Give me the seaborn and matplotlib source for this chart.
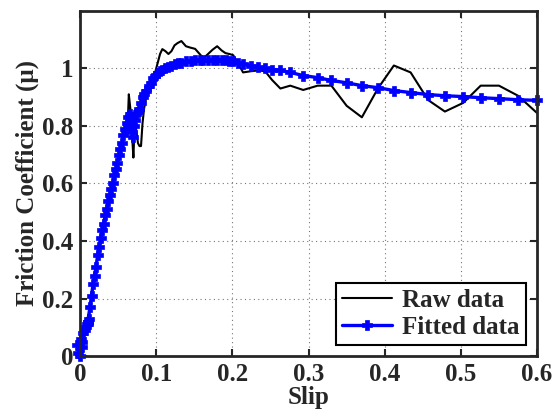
import numpy as np
import pandas as pd
import matplotlib
matplotlib.use("Agg")
import matplotlib.pyplot as plt
import seaborn as sns

# slip values (shared by raw and fitted data)
slip = [0.000, -0.003, 0.002, -0.004, 0.001, 0.004, 0.003, 0.006, 0.008, 0.010, 0.011, 0.009, 0.012, 0.010,
        0.013, 0.015, 0.017, 0.019, 0.021, 0.023, 0.025, 0.027, 0.029, 0.031, 0.033, 0.035, 0.037, 0.039,
        0.041, 0.043, 0.045, 0.047, 0.049, 0.051, 0.053, 0.055, 0.057, 0.059, 0.061, 0.063,
        0.064, 0.066, 0.068, 0.070, 0.071, 0.072, 0.074, 0.076, 0.078, 0.080, 0.082, 0.084, 0.087,
        0.090, 0.093, 0.096, 0.099, 0.102, 0.105, 0.108, 0.112, 0.116, 0.120, 0.124, 0.128, 0.133,
        0.139, 0.145, 0.151, 0.157, 0.162, 0.168, 0.174, 0.180, 0.186, 0.191, 0.196, 0.201, 0.207,
        0.214, 0.224, 0.234, 0.243, 0.252, 0.263, 0.276, 0.293, 0.312, 0.330, 0.350, 0.370, 0.391,
        0.412, 0.434, 0.457, 0.479, 0.503, 0.526, 0.550, 0.575, 0.600]

raw_mu = [0.00, 0.01, 0.03, 0.02, 0.06, 0.07, 0.05, 0.09, 0.10, 0.11, 0.12, 0.10, 0.13, 0.11,
          0.16, 0.20, 0.24, 0.28, 0.31, 0.35, 0.38, 0.41, 0.44, 0.46, 0.49, 0.51, 0.54, 0.56,
          0.58, 0.60, 0.63, 0.65, 0.67, 0.70, 0.72, 0.74, 0.77, 0.79, 0.81, 0.84,
          0.91, 0.86, 0.78, 0.69, 0.76, 0.82, 0.78, 0.74, 0.73, 0.73, 0.81, 0.86, 0.90,
          0.93, 0.95, 0.97, 0.99, 1.02, 1.05, 1.067, 1.06, 1.05, 1.06, 1.08, 1.088, 1.095,
          1.077, 1.072, 1.068, 1.05, 1.035, 1.05, 1.065, 1.077, 1.062, 1.053, 1.05, 1.046, 1.02,
          0.986, 0.99, 0.993, 0.99, 0.96, 0.93, 0.94, 0.925, 0.94, 0.94, 0.87, 0.83, 0.93,
          1.01, 0.986, 0.89, 0.85, 0.88, 0.94, 0.94, 0.905, 0.845]

fit_mu = [0.00, 0.01, 0.03, 0.04, 0.06, 0.08, 0.05, 0.09, 0.10, 0.11, 0.12, 0.11, 0.13, 0.12,
          0.17, 0.21, 0.25, 0.28, 0.31, 0.35, 0.38, 0.41, 0.44, 0.46, 0.49, 0.51, 0.54, 0.56,
          0.58, 0.60, 0.63, 0.65, 0.67, 0.70, 0.72, 0.74, 0.77, 0.79, 0.81, 0.83,
          0.80, 0.84, 0.78, 0.76, 0.80, 0.82, 0.84, 0.85, 0.86, 0.88, 0.90, 0.91, 0.92,
          0.94, 0.95, 0.965, 0.975, 0.985, 0.99, 0.995, 1.00, 1.005, 1.01, 1.015, 1.018, 1.02,
          1.024, 1.026, 1.028, 1.029, 1.03, 1.03, 1.03, 1.03, 1.03, 1.029, 1.027, 1.025, 1.02,
          1.016, 1.01, 1.005, 1.00, 0.996, 0.993, 0.986, 0.975, 0.968, 0.958, 0.95, 0.94, 0.933,
          0.923, 0.916, 0.909, 0.905, 0.902, 0.898, 0.895, 0.891, 0.889]

x_ticks = [0, 0.1, 0.2, 0.3, 0.4, 0.5, 0.6]
x_tick_labels = ["0", "0.1", "0.2", "0.3", "0.4", "0.5", "0.6"]
y_ticks = [0, 0.2, 0.4, 0.6, 0.8, 1.0]
y_tick_labels = ["0", "0.2", "0.4", "0.6", "0.8", "1"]

df = pd.DataFrame({"slip": slip, "raw": raw_mu, "fit": fit_mu})

sns.set_style("ticks")
plt.rcParams['font.family'] = ['Liberation Serif', 'DejaVu Serif']
plt.rcParams['font.weight'] = 'bold'
plt.rcParams['axes.labelweight'] = 'bold'

fig = plt.figure(figsize=(5.6, 4.17), dpi=100)
ax = fig.add_axes([0.143, 0.146, 0.816, 0.828])

sns.lineplot(data=df, x="slip", y="raw", ax=ax, sort=False, estimator=None,
             color="black", linewidth=1.5, label="Raw data")
sns.lineplot(data=df, x="slip", y="fit", ax=ax, sort=False, estimator=None,
             color="#0000ff", linewidth=2.4, marker="P", markersize=7,
             markeredgecolor="#0000ff", markeredgewidth=0.5, clip_on=False,
             label="Fitted data")

ax.set_xlim(0, 0.6)
ax.set_ylim(0, 1.2)
ax.set_xticks(x_ticks)
ax.set_xticklabels(x_tick_labels)
ax.set_yticks(y_ticks)
ax.set_yticklabels(y_tick_labels)
ax.tick_params(direction="in", top=True, right=True, length=5, width=1.5,
               labelsize=18, pad=5)
ax.grid(True, linestyle=(0, (1, 3)), color="#777777", linewidth=0.8)
for s in ax.spines.values():
    s.set_linewidth(2)
    s.set_visible(True)

ax.set_xlabel("Slip", fontsize=18, fontweight="bold", labelpad=0)
ax.set_ylabel("Friction Coefficient (\u03bc)", fontsize=18, fontweight="bold", labelpad=2)

leg = ax.legend(loc="lower right", frameon=True, fancybox=False, fontsize=18,
                edgecolor="black", framealpha=1, borderpad=0.25, handlelength=2.0,
                handletextpad=0.4, labelspacing=0.15, borderaxespad=0.45)
leg.get_frame().set_linewidth(1.5)

fig.savefig("out.png", dpi=100)
